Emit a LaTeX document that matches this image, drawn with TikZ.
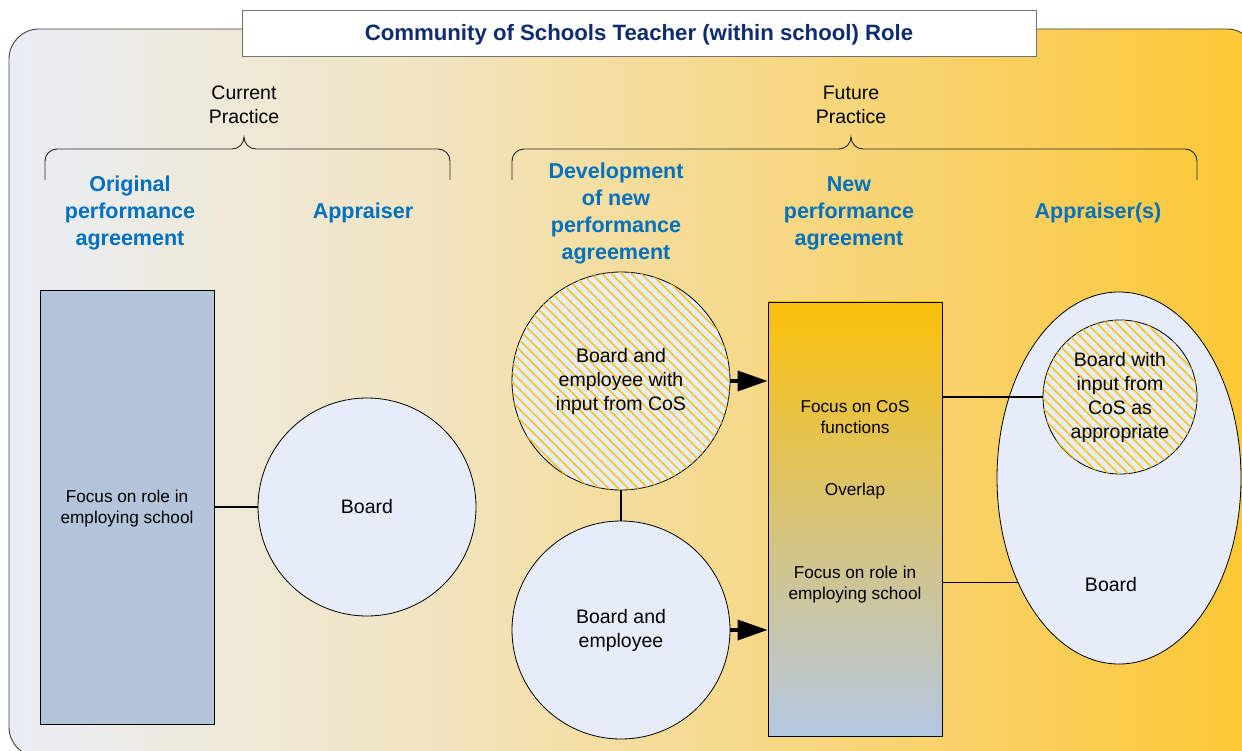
\documentclass[tikz,border=0pt]{standalone}
\usepackage{fontspec}
\setmainfont{Liberation Sans}
\usetikzlibrary{arrows.meta,shapes.geometric,patterns.meta}
\definecolor{bg0}{HTML}{E8EDF6}
\definecolor{bg1}{HTML}{EEEADC}
\definecolor{bg2}{HTML}{F1E4C2}
\definecolor{bg3}{HTML}{F4DEA2}
\definecolor{bg4}{HTML}{F6D98A}
\definecolor{bg5}{HTML}{F9D062}
\definecolor{bg6}{HTML}{FDC832}
\definecolor{bgline}{HTML}{404040}
\definecolor{titleblue}{HTML}{0F2D6E}
\definecolor{headblue}{HTML}{0070C0}
\definecolor{discfill}{HTML}{E6ECF8}
\definecolor{hatchc}{HTML}{FFC000}
\definecolor{origfill}{HTML}{B4C5DB}
\definecolor{rtop}{HTML}{FBC00A}
\definecolor{rbot}{HTML}{B5C8E3}
\pgfdeclarehorizontalshading{bgshade}{100bp}{color(0bp)=(bg0); color(25bp)=(bg0); color(32.5bp)=(bg1); color(41.5bp)=(bg2); color(48.5bp)=(bg3); color(54.5bp)=(bg4); color(64.5bp)=(bg5); color(75bp)=(bg6); color(100bp)=(bg6)}
\begin{document}
\begin{tikzpicture}[x=1pt,y=-1pt,
  hd/.style={font=\fontsize{21.5}{27}\selectfont\bfseries, text=headblue, align=center, inner sep=0pt},
  body/.style={font=\fontsize{19.5}{24}\selectfont, align=center},
  small/.style={font=\fontsize{17.2}{21}\selectfont, align=center, inner sep=0pt},
  disc/.style={circle, draw=black, line width=0.8pt, fill=discfill, inner sep=0pt, body},
  hatched/.style={postaction={pattern={Lines[angle=-45,distance=7pt,line width=1.4pt]}, pattern color=hatchc}},
  bracepath/.style={draw=black!85, line width=0.9pt},
  conn/.style={draw=black, line width=1.1pt},
  arr/.style={draw=black, line width=3.6pt, -{Triangle[length=30pt,width=20pt]}},
  titlebox/.style={draw=black!55, line width=0.9pt, fill=white, minimum width=794pt, minimum height=46pt, inner sep=0pt},
  titletext/.style={font=\fontsize{22.2}{26}\selectfont\bfseries, text=titleblue, inner sep=0pt},
  colbox/.style={draw=black, line width=0.9pt, minimum width=174pt, minimum height=434pt, inner sep=0pt}
]
\useasboundingbox (0,0) rectangle (1242,751);
\clip (0,0) rectangle (1242,751);
% background
\shadedraw[shading=bgshade, draw=bgline, line width=0.9pt, rounded corners=30pt] (9,29) rectangle (1257,757);
% title
\node[titlebox] (title) at (639,33) {};
\node[titletext] (titlet) at (639,35) {Community of Schools Teacher (within school) Role};
% practice labels
\node[body, inner sep=0pt] (cur) at (244,105) {Current\\Practice};
\node[body, inner sep=0pt] (fut) at (851,105) {Future\\Practice};
% braces
\draw[bracepath] (45,180) -- (45,161) to[out=90,in=180] (57,149) -- (232,149) to[out=0,in=-90] (244,137) to[out=-90,in=180] (256,149) -- (438,149) to[out=0,in=90] (450,161) -- (450,180);
\draw[bracepath] (512,180) -- (512,161) to[out=90,in=180] (524,149) -- (839,149) to[out=0,in=-90] (851,137) to[out=-90,in=180] (863,149) -- (1185,149) to[out=0,in=90] (1197,161) -- (1197,180);
% headings
\node[hd] (h1) at (130,213) {Original\\performance\\agreement};
\node[hd] (h2) at (363,213) {Appraiser};
\node[hd] (h3) at (616,213) {Development\\of new\\performance\\agreement};
\node[hd] (h4) at (849,213) {New\\performance\\agreement};
\node[hd] (h5) at (1098,213) {Appraiser(s)};
% current practice
\node[colbox, fill=origfill] (orig) at (127,507) {};
\node[small] (origt) at (127,509) {Focus on role in\\employing school};
\node[disc, minimum size=218pt] (board) at (367,507) {Board};
\draw[conn] (orig.east) -- (board.west);
% development
\node[disc, hatched, minimum size=218pt] (devA) at (621,381) {Board and\\employee with\\input from CoS};
\node[disc, minimum size=218pt] (devB) at (621,630) {Board and\\employee};
\draw[conn] (devA.south) -- (devB.north);
% new performance agreement
\node[colbox, top color=rtop, bottom color=rbot] (newpa) at (855,519) {};
\node[small] (t1) at (855,417) {Focus on CoS\\functions};
\node[small] (t2) at (855,491) {Overlap};
\node[small] (t3) at (855,585) {Focus on role in\\employing school};
\draw[arr] (devA.east) -- (devA.east -| newpa.west);
\draw[arr] (devB.east) -- (devB.east -| newpa.west);
% appraisers
\node[ellipse, draw=black, line width=0.8pt, fill=discfill, minimum width=244pt, minimum height=372pt, inner sep=0pt] (ell) at (1119,478) {};
\node[body, inner sep=0pt] (ellt) at (1111,585) {Board};
\node[disc, hatched, minimum size=154pt] (crc) at (1120,397) {Board with\\input from\\CoS as\\appropriate};
\draw[conn] (newpa.east |- crc.west) -- (crc.west);
\draw[conn] (newpa.east |- ell.226) -- (ell.226);
\end{tikzpicture}
\end{document}
